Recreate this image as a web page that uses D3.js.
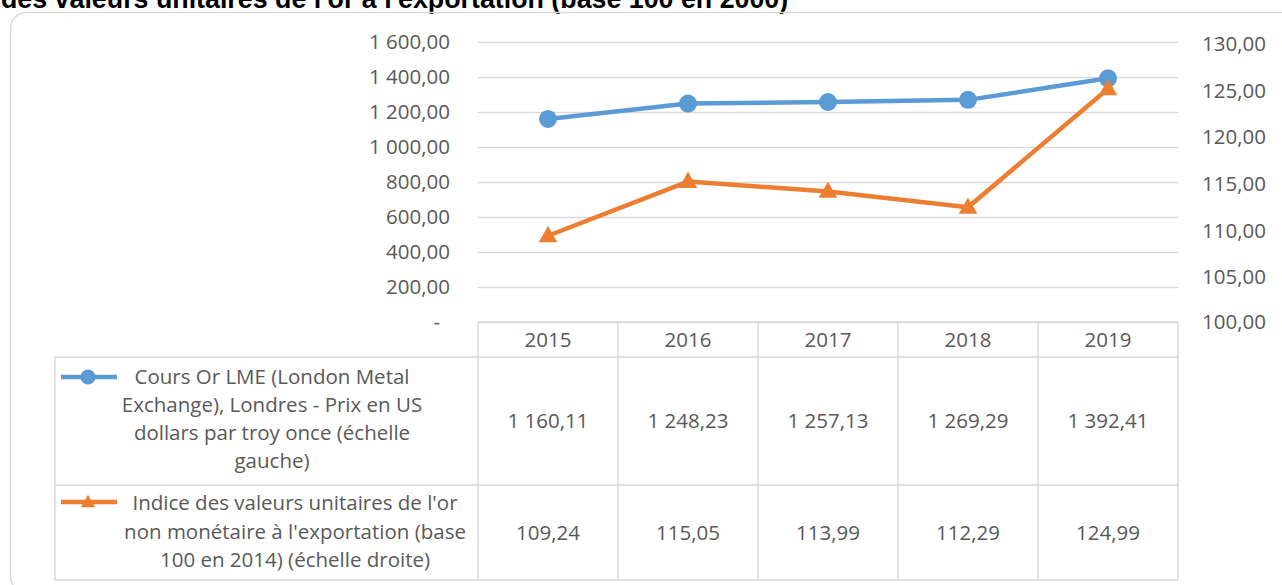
<!DOCTYPE html>
<html>
<head>
<meta charset="utf-8">
<script src="https://cdn.jsdelivr.net/npm/d3@7"></script>
<style>
  body { margin: 0; background: #fff; }
  svg { display: block; font-family: "Open Sans", sans-serif; }
</style>
</head>
<body>
<script>
// data
var years = ["2015", "2016", "2017", "2018", "2019"];
var coursOr = [1160.11, 1248.23, 1257.13, 1269.29, 1392.41];
var indiceOr = [109.24, 115.05, 113.99, 112.29, 124.99];
var leftTicks = [0, 200, 400, 600, 800, 1000, 1200, 1400, 1600];
var rightTicks = [100, 105, 110, 115, 120, 125, 130];
var coursLabel = ["Cours Or LME (London Metal", "Exchange), Londres - Prix en US", "dollars par troy once (échelle", "gauche)"];
var indiceLabel = ["Indice des valeurs unitaires de l'or", "non monétaire à l'exportation (base", "100 en 2014) (échelle droite)"];
var title = "des valeurs unitaires de l'or à l'exportation (base 100 en 2000)";

var W = 1282, H = 585;
var plot = {left: 478, right: 1178, top: 42, bottom: 322};
var tableLeft = 55, row1 = 357, row2 = 485, tableBottom = 580;
var blue = "#5b9bd5", orange = "#ed7d31", grid = "#d9d9d9", txt = "#595959";

var fr = d3.formatLocale({decimal: ",", thousands: " ", grouping: [3], currency: ["", ""]});
var fmt = fr.format(",.2f");

var svg = d3.select("body").append("svg")
  .attr("width", W)
  .attr("height", H);

// title (cut at the top)
svg.append("text")
  .attr("x", 1).attr("y", 8)
  .style("font-family", "'Liberation Sans', Arial, sans-serif")
  .style("font-weight", "bold")
  .style("font-size", "26.8px")
  .attr("fill", "#000")
  .text(title);

// chart frame
svg.append("rect")
  .attr("x", 10.5).attr("y", 12.5)
  .attr("width", 1300).attr("height", 580)
  .attr("rx", 16)
  .attr("fill", "none")
  .attr("stroke", grid)
  .attr("stroke-width", 1.5);

var x = d3.scaleBand().domain(years).range([plot.left, plot.right]);
var yL = d3.scaleLinear().domain([0, 1600]).range([plot.bottom, plot.top]);
var yR = d3.scaleLinear().domain([100, 130]).range([plot.bottom, plot.top]);

// gridlines
var gGrid = svg.append("g")
  .attr("transform", "translate(" + plot.left + ",0)")
  .call(d3.axisLeft(yL).tickValues(leftTicks).tickSize(-(plot.right - plot.left)).tickFormat(""));
gGrid.select(".domain").remove();
gGrid.selectAll("line").attr("stroke", grid).attr("stroke-width", 1.5);

// left axis
var gL = svg.append("g")
  .attr("transform", "translate(" + plot.left + ",0)")
  .call(d3.axisLeft(yL).tickValues(leftTicks).tickSize(0).tickPadding(28)
    .tickFormat(function(d) { return d === 0 ? "-" : fmt(d); }));
gL.select(".domain").remove();
gL.selectAll("text")
  .attr("fill", txt)
  .style("font-size", "20.5px")
  .style("font-family", "'Open Sans', sans-serif")
  .attr("dx", function(d) { return d === 0 ? -10 : 0; });

// right axis
var gR = svg.append("g")
  .attr("transform", "translate(" + plot.right + ",0)")
  .call(d3.axisRight(yR).tickValues(rightTicks).tickSize(0).tickPadding(24).tickFormat(fmt));
gR.select(".domain").remove();
gR.selectAll("text")
  .attr("fill", txt)
  .style("font-size", "20.5px")
  .style("font-family", "'Open Sans', sans-serif")
  .attr("dy", function(d) { return d === 100 ? "0.32em" : "0.42em"; });

// lines
var cx = function(d, i) { return x(years[i]) + x.bandwidth() / 2; };

svg.append("path")
  .datum(coursOr)
  .attr("fill", "none")
  .attr("stroke", blue)
  .attr("stroke-width", 4.5)
  .attr("stroke-linejoin", "round")
  .attr("d", d3.line().x(cx).y(function(d) { return yL(d); }));

svg.append("path")
  .datum(indiceOr)
  .attr("fill", "none")
  .attr("stroke", orange)
  .attr("stroke-width", 4.5)
  .attr("stroke-linejoin", "round")
  .attr("d", d3.line().x(cx).y(function(d) { return yR(d); }));

svg.selectAll(".dot")
  .data(coursOr)
  .enter().append("circle")
  .attr("cx", cx)
  .attr("cy", function(d) { return yL(d); })
  .attr("r", 9)
  .attr("fill", blue);

var tri = d3.symbol().type(d3.symbolTriangle).size(150);
svg.selectAll(".tri")
  .data(indiceOr)
  .enter().append("path")
  .attr("d", tri)
  .attr("transform", function(d, i) { return "translate(" + cx(d, i) + "," + (yR(d) + 1) + ")"; })
  .attr("fill", orange);

// data table
var tb = svg.append("g")
  .attr("fill", "none")
  .attr("stroke", grid)
  .attr("stroke-width", 1.5);
// horizontal rules
tb.append("line").attr("x1", plot.left).attr("x2", plot.right).attr("y1", plot.bottom).attr("y2", plot.bottom);
[row1, row2, tableBottom].forEach(function(y) {
  tb.append("line").attr("x1", tableLeft).attr("x2", plot.right).attr("y1", y).attr("y2", y);
});
// vertical rules
tb.append("line").attr("x1", tableLeft).attr("x2", tableLeft).attr("y1", row1).attr("y2", tableBottom);
years.forEach(function(yr) {
  tb.append("line").attr("x1", x(yr)).attr("x2", x(yr)).attr("y1", plot.bottom).attr("y2", tableBottom);
});
tb.append("line").attr("x1", plot.right).attr("x2", plot.right).attr("y1", plot.bottom).attr("y2", tableBottom);

var cellText = svg.append("g")
  .attr("fill", txt)
  .attr("text-anchor", "middle")
  .style("font-size", "20.5px");

cellText.selectAll(".yr")
  .data(years)
  .enter().append("text")
  .attr("x", function(d) { return x(d) + x.bandwidth() / 2; })
  .attr("y", (plot.bottom + row1) / 2)
  .attr("dy", "0.35em")
  .text(function(d) { return d; });

cellText.selectAll(".v1")
  .data(coursOr)
  .enter().append("text")
  .attr("x", cx)
  .attr("y", (row1 + row2) / 2)
  .attr("dy", "0.35em")
  .text(function(d) { return fmt(d); });

cellText.selectAll(".v2")
  .data(indiceOr)
  .enter().append("text")
  .attr("x", cx)
  .attr("y", (row2 + tableBottom) / 2)
  .attr("dy", "0.35em")
  .text(function(d) { return fmt(d); });

// legend keys
function legendKey(y, color, shape) {
  svg.append("line")
    .attr("x1", 61).attr("x2", 117).attr("y1", y).attr("y2", y)
    .attr("stroke", color).attr("stroke-width", 4.5);
  if (shape === "circle") {
    svg.append("circle").attr("cx", 88).attr("cy", y).attr("r", 7.5).attr("fill", color);
  } else {
    svg.append("path")
      .attr("d", d3.symbol().type(d3.symbolTriangle).size(90))
      .attr("transform", "translate(88," + (y + 1) + ")")
      .attr("fill", color);
  }
}
legendKey(377, blue, "circle");
legendKey(502, orange, "triangle");

cellText.selectAll(".l1")
  .data(coursLabel)
  .enter().append("text")
  .attr("x", 272)
  .attr("y", function(d, i) { return 377 + i * 28; })
  .attr("dy", "0.35em")
  .text(function(d) { return d; });

cellText.selectAll(".l2")
  .data(indiceLabel)
  .enter().append("text")
  .attr("x", 295)
  .attr("y", function(d, i) { return 503 + i * 28.5; })
  .attr("dy", "0.35em")
  .text(function(d) { return d; });
</script>
</body>
</html>
